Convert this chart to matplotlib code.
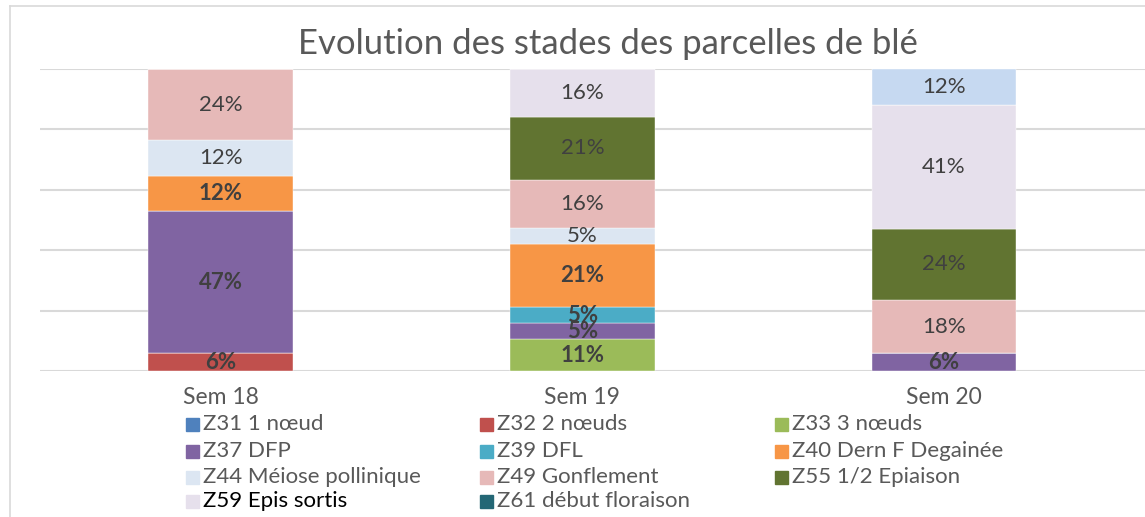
import matplotlib
matplotlib.use("Agg")
import matplotlib.pyplot as plt
from matplotlib.patches import Rectangle
from matplotlib.lines import Line2D

plt.rcParams['font.family'] = ['Lato', 'DejaVu Sans']

# nombre de parcelles par stade et par semaine (affiché en %)
semaines = ["Sem 18", "Sem 19", "Sem 20"]
stades = ["Z31 1 nœud", "Z32 2 nœuds", "Z33 3 nœuds",
          "Z37 DFP", "Z39 DFL", "Z40 Dern F Degainée",
          "Z44 Méiose pollinique", "Z49 Gonflement", "Z55 1/2 Epiaison",
          "Z59 Epis sortis", "Z61 début floraison", None]
couleurs = ["#4F81BD", "#C0504D", "#9BBB59",
            "#8064A2", "#4BACC6", "#F79646",
            "#DCE6F2", "#E6B9B8", "#617431",
            "#E6E0EC", "#246775", "#C6D9F1"]
parcelles = [
    [0, 0, 0],   # Z31
    [1, 0, 0],   # Z32
    [0, 2, 0],   # Z33
    [8, 1, 1],   # Z37
    [0, 1, 0],   # Z39
    [2, 4, 0],   # Z40
    [2, 1, 0],   # Z44
    [4, 3, 3],   # Z49
    [0, 4, 4],   # Z55
    [0, 3, 7],   # Z59
    [0, 0, 0],   # Z61
    [0, 0, 2],   # serie hors legende
]

W, H = 1145, 517
fig = plt.figure(figsize=(W / 100, H / 100), dpi=100)

# cadre du graphique
fig.add_artist(Line2D([10 / W, 1], [1 - 6 / H, 1 - 6 / H], color="#D9D9D9", lw=1.2))
fig.add_artist(Line2D([10 / W, 10 / W], [0, 1 - 6 / H], color="#D9D9D9", lw=1.2))

ax = fig.add_axes([40 / W, 1 - 371 / H, (W - 40) / W, (371 - 69) / H])

totaux = [sum(p[j] for p in parcelles) for j in range(len(semaines))]
x = list(range(len(semaines)))
bas = [0.0] * len(semaines)
for i, p in enumerate(parcelles):
    parts = [p[j] / totaux[j] for j in x]
    ax.bar(x, parts, width=0.4, bottom=bas, color=couleurs[i],
           edgecolor="white", linewidth=0.3, zorder=3)
    for j in x:
        if p[j] > 0:
            ax.text(j, bas[j] + parts[j] / 2, "%d%%" % round(parts[j] * 100),
                    ha="center", va="center", fontsize=16, color="#404040",
                    fontweight="bold" if i <= 5 else "normal", zorder=4)
    bas = [bas[j] + parts[j] for j in x]

ax.set_ylim(0, 1)
ax.set_xlim(-0.5, (W - 221) / 361.5)
ax.set_yticks([0, 0.2, 0.4, 0.6, 0.8, 1.0])
ax.yaxis.grid(True, color="#D9D9D9", lw=1.5, zorder=0)
ax.tick_params(left=False, labelleft=False, bottom=False)
ax.set_xticks(x)
ax.set_xticklabels(semaines, fontsize=16.5, color="#595959")
ax.tick_params(axis="x", pad=8)
for s in ax.spines.values():
    s.set_visible(False)

fig.text(608 / W, 1 - 44 / H, "Evolution des stades des parcelles de blé",
         ha="center", va="center", fontsize=25, color="#595959")

# legende en 3 colonnes
col_x = [186, 480, 775]
row_y = [424, 451, 477, 501]
for i, nom in enumerate(stades):
    if nom is None:
        continue
    gx = col_x[i % 3]
    cy = row_y[i // 3]
    fig.add_artist(Rectangle((gx / W, 1 - (cy + 6.5) / H), 13 / W, 13 / H,
                             transform=fig.transFigure, color=couleurs[i]))
    fig.text((gx + 17) / W, 1 - cy / H, nom, ha="left", va="center",
             fontsize=16, color="black" if i == 9 else "#595959")

fig.savefig("out.png", dpi=100)
